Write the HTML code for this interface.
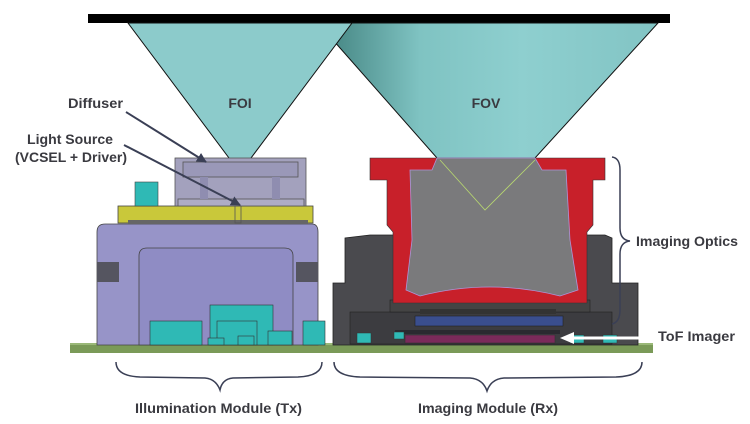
<!DOCTYPE html>
<html><head><meta charset="utf-8"><style>
html,body{margin:0;padding:0;background:#fff;}
svg{display:block;}
text{font-family:"Liberation Sans",sans-serif;font-weight:bold;fill:#3a3a40;font-size:14px;}
</style></head><body>
<svg width="750" height="424" viewBox="0 0 750 424" xmlns="http://www.w3.org/2000/svg">
<defs>
<linearGradient id="fov" x1="0" x2="1" y1="0" y2="0">
<stop offset="0" stop-color="#3f7f7c"/><stop offset="0.3" stop-color="#7fc3c2"/><stop offset="0.6" stop-color="#8ecfcf"/><stop offset="1" stop-color="#82c4c4"/>
</linearGradient>
<marker id="ah" markerWidth="10" markerHeight="10" refX="9" refY="5" orient="auto" markerUnits="userSpaceOnUse"><path d="M0,0 L10,5 L0,10 Z" fill="#3a3f55"/></marker>
</defs>
<rect x="88" y="14" width="582" height="9" fill="#000"/>
<polygon points="318,23 658,23 535,158 437,158" fill="url(#fov)" stroke="#111" stroke-width="1"/>
<polygon points="128,23 352,23 248,162 232,162" fill="#8ccbcb" stroke="#111" stroke-width="1"/>
<text x="240" y="108" text-anchor="middle">FOI</text>
<text x="486" y="108" text-anchor="middle">FOV</text>

<rect x="70" y="343" width="583" height="10" fill="#7a9a58"/>
<rect x="70" y="343" width="583" height="2" fill="#9ab878"/>

<path d="M97,345 L97,232 Q97,224 105,224 L312,224 Q318,224 318,232 L318,345 Z" fill="#9794c8" stroke="#444" stroke-width="0.8"/>
<rect x="97" y="262" width="22" height="20" fill="#555560"/>
<rect x="296" y="262" width="22" height="20" fill="#555560"/>
<path d="M139,345 L139,256 Q139,248 147,248 L284,248 Q293,248 293,256 L293,345 Z" fill="#8f8cc4" stroke="#444" stroke-width="0.8"/>
<rect x="118" y="206" width="195" height="17" fill="#c9c83a" stroke="#444" stroke-width="0.8"/>
<rect x="128" y="220" width="180" height="4" fill="#666"/>
<rect x="235" y="206" width="6" height="17" fill="none" stroke="#555" stroke-width="0.8"/>
<rect x="175" y="158" width="131" height="48" fill="#a3a1bd" stroke="#555" stroke-width="0.8"/>
<rect x="183" y="162" width="115" height="15" fill="#9a98b8" stroke="#555" stroke-width="0.8"/>
<rect x="178" y="199" width="126" height="7" fill="#aeacc6" stroke="#555" stroke-width="0.8"/>
<rect x="200" y="177" width="8" height="22" fill="#8f8db0"/>
<rect x="272" y="177" width="8" height="22" fill="#8f8db0"/>
<rect x="135" y="182" width="23" height="24" fill="#2fb9b5" stroke="#444" stroke-width="0.6"/>
<g fill="#2fb9b5" stroke="#333" stroke-width="0.6">
<rect x="150" y="321" width="52" height="24"/>
<rect x="210" y="305" width="63" height="40"/>
<rect x="217" y="321" width="40" height="24"/>
<rect x="208" y="338" width="16" height="7"/>
<rect x="238" y="336" width="16" height="9"/>
<rect x="268" y="331" width="24" height="14"/>
<rect x="303" y="321" width="22" height="24"/>
</g>

<path d="M333,345 L333,283 L345,283 L345,238 L370,235 L605,235 L612,238 L612,283 L638,283 L638,345 Z" fill="#4a4a4e" stroke="#222" stroke-width="0.8"/>
<rect x="350" y="312" width="262" height="32" fill="#3c3c40" stroke="#222" stroke-width="0.6"/>
<rect x="390" y="300" width="200" height="12" fill="#444" stroke="#222" stroke-width="0.6"/>
<path d="M370,158 L605,158 L605,180 L593,180 L593,225 L587,232 L587,303 L393,303 L393,232 L387,225 L387,180 L370,180 Z" fill="#c8202a" stroke="#333" stroke-width="0.6"/>
<path d="M437,158 L535,158 L542,170 L566,170 L570,240 L578,290 L560,296 Q490,278 420,296 L406,290 L412,240 L410,170 L432,170 Z" fill="#7a7a7c" stroke="#b093d8" stroke-width="0.8"/>
<polyline points="440,160 485,210 535,160" fill="none" stroke="#b8d870" stroke-width="0.8"/>
<rect x="420" y="309" width="136" height="5" fill="#333"/>
<rect x="415" y="316" width="148" height="10" fill="#3a4e8e" stroke="#222" stroke-width="0.6"/>
<rect x="395" y="330" width="165" height="4" fill="#2a2a30"/>
<rect x="405" y="335" width="150" height="8" fill="#7a2a5a" stroke="#333" stroke-width="0.6"/>
<g fill="#2fb9b5" stroke="#333" stroke-width="0.5">
<rect x="357" y="333" width="14" height="10"/>
<rect x="394" y="332" width="10" height="7"/>
<rect x="570" y="335" width="14" height="8"/>
<rect x="603" y="335" width="14" height="8"/>
</g>

<text x="68" y="108" textLength="55" lengthAdjust="spacingAndGlyphs">Diffuser</text>
<text x="27" y="144" textLength="86" lengthAdjust="spacingAndGlyphs">Light Source</text>
<text x="15" y="162" textLength="112" lengthAdjust="spacingAndGlyphs">(VCSEL + Driver)</text>
<line x1="126" y1="112" x2="206" y2="162" stroke="#3a3f55" stroke-width="2" marker-end="url(#ah)"/>
<line x1="124" y1="145" x2="240" y2="205" stroke="#3a3f55" stroke-width="2" marker-end="url(#ah)"/>

<path d="M612,157 Q620,158 620,170 L620,228 Q620,240 630,241 Q620,242 620,254 L620,310 Q620,322 612,324" fill="none" stroke="#3a3f55" stroke-width="1.5"/>
<text x="636" y="246" textLength="102" lengthAdjust="spacingAndGlyphs">Imaging Optics</text>
<line x1="648" y1="338" x2="570" y2="338" stroke="#fff" stroke-width="3"/>
<path d="M560,338 L574,332 L574,344 Z" fill="#fff"/>
<text x="658" y="341" textLength="77" lengthAdjust="spacingAndGlyphs">ToF Imager</text>

<path d="M116,362 Q116,376 140,377 L205,378 Q216,379 220,390 Q222,379 233,378 L298,377 Q322,376 322,362" fill="none" stroke="#3a3f55" stroke-width="1.5"/>
<path d="M334,362 Q334,376 360,377 L470,378 Q483,379 487,391 Q491,379 504,378 L616,377 Q642,376 642,362" fill="none" stroke="#3a3f55" stroke-width="1.5"/>
<text x="135" y="413" textLength="167" lengthAdjust="spacingAndGlyphs">Illumination Module (Tx)</text>
<text x="418" y="413" textLength="140" lengthAdjust="spacingAndGlyphs">Imaging Module (Rx)</text>
</svg>
</body></html>
